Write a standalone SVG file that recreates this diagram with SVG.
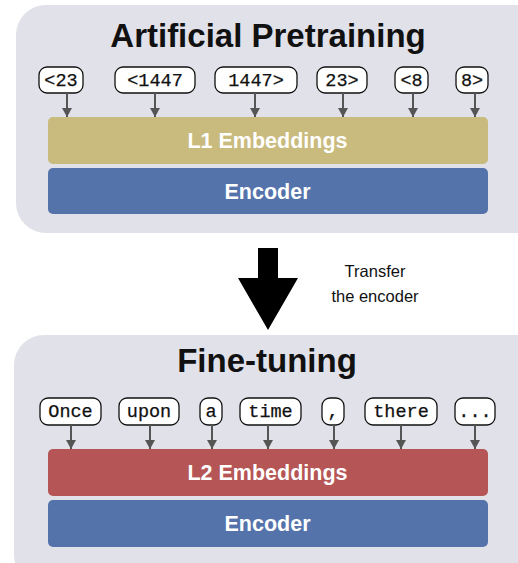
<svg xmlns="http://www.w3.org/2000/svg" width="518" height="563" viewBox="0 0 518 563">
<style>
.panel{fill:#e1e1e9}
.title{font-family:"Liberation Sans",Arial,sans-serif;font-weight:bold;font-size:33px;fill:#111;text-anchor:middle}
.tok rect{fill:#fff;stroke:#111;stroke-width:1.3}
.tok text{font-family:"Liberation Mono","Courier New",monospace;font-size:18.5px;fill:#111;text-anchor:middle;stroke:#111;stroke-width:0.25}
.bar text{font-family:"Liberation Sans",Arial,sans-serif;font-weight:bold;font-size:21.5px;fill:#fff;text-anchor:middle}
.conn line{stroke:#555;stroke-width:2}
.note{font-family:"Liberation Sans",Arial,sans-serif;font-size:16.5px;fill:#111;text-anchor:middle}
</style>
<defs>
<marker id="ah" viewBox="0 0 10 10" refX="10" refY="5" markerWidth="9" markerHeight="10" markerUnits="userSpaceOnUse" orient="auto" preserveAspectRatio="none">
<path d="M0,0 L10,5 L0,10 z" fill="#555"/>
</marker>
</defs>
<rect fill="#fff" width="518" height="563"/>
<g id="panel-pretraining">
<rect class="panel" x="16" y="5" width="530" height="228" rx="30"/>
<text class="title" x="268" y="47">Artificial Pretraining</text>
</g>
<g id="panel-finetuning">
<rect class="panel" x="14" y="335" width="532" height="250" rx="30"/>
<text class="title" x="267" y="372">Fine-tuning</text>
</g>
<g id="tok-lt23" class="tok"><rect x="39" y="67" width="44" height="26" rx="8"/><text x="61" y="86">&lt;23</text></g>
<g id="tok-lt1447" class="tok"><rect x="115" y="67" width="80" height="26" rx="8"/><text x="155" y="86">&lt;1447</text></g>
<g id="tok-1447gt" class="tok"><rect x="215" y="67" width="82" height="26" rx="8"/><text x="256" y="86">1447&gt;</text></g>
<g id="tok-23gt" class="tok"><rect x="317" y="67" width="50" height="26" rx="8"/><text x="342" y="86">23&gt;</text></g>
<g id="tok-lt8" class="tok"><rect x="395" y="67" width="33" height="26" rx="8"/><text x="411.5" y="86">&lt;8</text></g>
<g id="tok-8gt" class="tok"><rect x="456" y="67" width="32" height="26" rx="8"/><text x="472" y="86">8&gt;</text></g>
<g id="l1-embeddings" class="bar"><rect x="48" y="117" width="440" height="47" rx="5" fill="#c9ba7d"/><text x="267.5" y="148">L1 Embeddings</text></g>
<g id="encoder-1" class="bar"><rect x="48" y="168" width="440" height="46" rx="5" fill="#5573ab"/><text x="267.5" y="199">Encoder</text></g>
<g id="transfer">
<path d="M258,248 H278 V278 H298 L268,330 L238,278 H258 Z" fill="#000"/>
<text class="note" x="375" y="277">Transfer</text>
<text class="note" x="375" y="302">the encoder</text>
</g>
<g id="tok-once" class="tok"><rect x="40" y="398" width="61" height="27" rx="8"/><text x="70.5" y="417">Once</text></g>
<g id="tok-upon" class="tok"><rect x="119" y="398" width="60" height="27" rx="8"/><text x="149" y="417">upon</text></g>
<g id="tok-a" class="tok"><rect x="200" y="398" width="22" height="27" rx="8"/><text x="211" y="417">a</text></g>
<g id="tok-time" class="tok"><rect x="240" y="398" width="61" height="27" rx="8"/><text x="270.5" y="417">time</text></g>
<g id="tok-comma" class="tok"><rect x="322" y="398" width="22" height="27" rx="8"/><text x="333" y="417">,</text></g>
<g id="tok-there" class="tok"><rect x="365" y="398" width="72" height="27" rx="8"/><text x="401" y="417">there</text></g>
<g id="tok-ellipsis" class="tok"><rect x="455" y="398" width="40" height="27" rx="8"/><text x="475" y="417">...</text></g>
<g id="l2-embeddings" class="bar"><rect x="48" y="449" width="440" height="47" rx="5" fill="#b55555"/><text x="267.5" y="480">L2 Embeddings</text></g>
<g id="encoder-2" class="bar"><rect x="48" y="500" width="440" height="47" rx="5" fill="#5573ab"/><text x="267.5" y="531">Encoder</text></g>
<g id="connectors" class="conn">
<line x1="67" y1="93" x2="67" y2="117" marker-end="url(#ah)"/>
<line x1="155" y1="93" x2="155" y2="117" marker-end="url(#ah)"/>
<line x1="255" y1="93" x2="255" y2="117" marker-end="url(#ah)"/>
<line x1="343" y1="93" x2="343" y2="117" marker-end="url(#ah)"/>
<line x1="413" y1="93" x2="413" y2="117" marker-end="url(#ah)"/>
<line x1="475" y1="93" x2="475" y2="117" marker-end="url(#ah)"/>
<line x1="71" y1="425" x2="71" y2="449" marker-end="url(#ah)"/>
<line x1="150" y1="425" x2="150" y2="449" marker-end="url(#ah)"/>
<line x1="212" y1="425" x2="212" y2="449" marker-end="url(#ah)"/>
<line x1="268" y1="425" x2="268" y2="449" marker-end="url(#ah)"/>
<line x1="334" y1="425" x2="334" y2="449" marker-end="url(#ah)"/>
<line x1="401" y1="425" x2="401" y2="449" marker-end="url(#ah)"/>
<line x1="475" y1="425" x2="475" y2="449" marker-end="url(#ah)"/>
</g>
</svg>
